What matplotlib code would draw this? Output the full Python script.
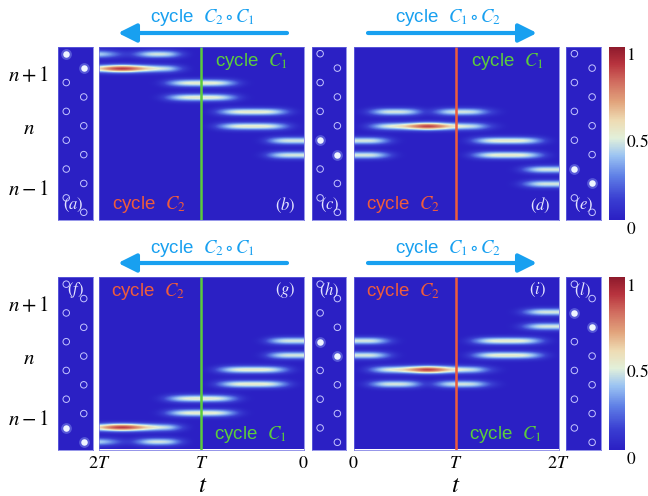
import numpy as np
import matplotlib
matplotlib.use("Agg")
import matplotlib.pyplot as plt
from matplotlib.colors import LinearSegmentedColormap, Normalize
from matplotlib.patches import FancyArrowPatch
from matplotlib.cm import ScalarMappable

plt.rcParams['mathtext.fontset'] = 'stix'

# ---------------- data ----------------
N_SITES = 12
N_T = 21            # time samples 0, 0.1T, ..., 2T

# site densities: {site row: values at t = 0, 0.1T, ..., 2T}
panel_b = {
    0: [0, 0, 0, 0, 0, 0, 0, 0, 0, 0, 0, 0, 0.15, 0.45, 0.5, 0.5, 0.3, 0.08, 0.15, 0.35, 0.45],
    1: [0, 0, 0, 0, 0, 0, 0, 0, 0, 0, 0, 0, 0.15, 0.45, 0.5, 0.6, 0.75, 0.95, 1.0, 0.85, 0.6],
    2: [0, 0, 0, 0, 0, 0, 0.05, 0.3, 0.5, 0.55, 0.55, 0.55, 0.5, 0.3, 0.05, 0, 0, 0, 0, 0, 0],
    3: [0, 0, 0, 0, 0, 0, 0.05, 0.3, 0.5, 0.55, 0.55, 0.55, 0.5, 0.3, 0.05, 0, 0, 0, 0, 0, 0],
    4: [0, 0.05, 0.3, 0.5, 0.55, 0.55, 0.55, 0.5, 0.3, 0.05, 0, 0, 0, 0, 0, 0, 0, 0, 0, 0, 0],
    5: [0, 0.05, 0.3, 0.5, 0.55, 0.55, 0.55, 0.5, 0.3, 0.05, 0, 0, 0, 0, 0, 0, 0, 0, 0, 0, 0],
    6: [0.5, 0.5, 0.5, 0.35, 0.05, 0, 0, 0, 0, 0, 0, 0, 0, 0, 0, 0, 0, 0, 0, 0, 0],
    7: [0.5, 0.5, 0.5, 0.35, 0.05, 0, 0, 0, 0, 0, 0, 0, 0, 0, 0, 0, 0, 0, 0, 0, 0],
}
panel_d = {
    4: [0, 0.05, 0.3, 0.5, 0.5, 0.5, 0.35, 0.05, 0.2, 0.45, 0.5, 0.5, 0.45, 0.2, 0.05, 0, 0, 0, 0, 0, 0],
    5: [0, 0.05, 0.3, 0.5, 0.55, 0.65, 0.82, 1.0, 0.92, 0.7, 0.55, 0.5, 0.45, 0.2, 0.05, 0, 0, 0, 0, 0, 0],
    6: [0.5, 0.5, 0.5, 0.3, 0.05, 0, 0, 0, 0, 0, 0, 0.05, 0.3, 0.5, 0.55, 0.55, 0.55, 0.5, 0.3, 0.05, 0],
    7: [0.5, 0.5, 0.5, 0.3, 0.05, 0, 0, 0, 0, 0, 0, 0.05, 0.3, 0.5, 0.55, 0.55, 0.55, 0.5, 0.3, 0.05, 0],
    8: [0, 0, 0, 0, 0, 0, 0, 0, 0, 0, 0, 0, 0, 0, 0, 0, 0.05, 0.3, 0.5, 0.5, 0.5],
    9: [0, 0, 0, 0, 0, 0, 0, 0, 0, 0, 0, 0, 0, 0, 0, 0, 0.05, 0.3, 0.5, 0.5, 0.5],
}
panel_g = {
    11: [0, 0, 0, 0, 0, 0, 0, 0, 0, 0, 0, 0, 0.15, 0.45, 0.5, 0.5, 0.3, 0.08, 0.15, 0.35, 0.45],
    10: [0, 0, 0, 0, 0, 0, 0, 0, 0, 0, 0, 0, 0.15, 0.45, 0.5, 0.6, 0.75, 0.95, 1.0, 0.85, 0.6],
    9: [0, 0, 0, 0, 0, 0, 0.05, 0.3, 0.5, 0.55, 0.55, 0.55, 0.5, 0.3, 0.05, 0, 0, 0, 0, 0, 0],
    8: [0, 0, 0, 0, 0, 0, 0.05, 0.3, 0.5, 0.55, 0.55, 0.55, 0.5, 0.3, 0.05, 0, 0, 0, 0, 0, 0],
    7: [0, 0.05, 0.3, 0.5, 0.55, 0.55, 0.55, 0.5, 0.3, 0.05, 0, 0, 0, 0, 0, 0, 0, 0, 0, 0, 0],
    6: [0, 0.05, 0.3, 0.5, 0.55, 0.55, 0.55, 0.5, 0.3, 0.05, 0, 0, 0, 0, 0, 0, 0, 0, 0, 0, 0],
    5: [0.5, 0.5, 0.5, 0.35, 0.05, 0, 0, 0, 0, 0, 0, 0, 0, 0, 0, 0, 0, 0, 0, 0, 0],
    4: [0.5, 0.5, 0.5, 0.35, 0.05, 0, 0, 0, 0, 0, 0, 0, 0, 0, 0, 0, 0, 0, 0, 0, 0],
}
panel_i = {
    7: [0, 0.05, 0.3, 0.5, 0.5, 0.5, 0.35, 0.05, 0.2, 0.45, 0.5, 0.5, 0.45, 0.2, 0.05, 0, 0, 0, 0, 0, 0],
    6: [0, 0.05, 0.3, 0.5, 0.55, 0.65, 0.82, 1.0, 0.92, 0.7, 0.55, 0.5, 0.45, 0.2, 0.05, 0, 0, 0, 0, 0, 0],
    5: [0.5, 0.5, 0.5, 0.3, 0.05, 0, 0, 0, 0, 0, 0, 0.05, 0.3, 0.5, 0.55, 0.55, 0.55, 0.5, 0.3, 0.05, 0],
    4: [0.5, 0.5, 0.5, 0.3, 0.05, 0, 0, 0, 0, 0, 0, 0.05, 0.3, 0.5, 0.55, 0.55, 0.55, 0.5, 0.3, 0.05, 0],
    3: [0, 0, 0, 0, 0, 0, 0, 0, 0, 0, 0, 0, 0, 0, 0, 0, 0.05, 0.3, 0.5, 0.5, 0.5],
    2: [0, 0, 0, 0, 0, 0, 0, 0, 0, 0, 0, 0, 0, 0, 0, 0, 0.05, 0.3, 0.5, 0.5, 0.5],
}

# occupied lattice sites in the side panels
occ_a = [0, 1]
occ_c = [6, 7]
occ_e = [8, 9]
occ_f = [10, 11]
occ_h = [4, 5]
occ_l = [2, 3]

t_ticks = [0, 1, 2]
t_ticklabels = ['$0$', '$T$', '$2T$']
cbar_ticks = [0, 0.5, 1]
cbar_ticklabels = ['$0$', '$0.5$', '$1$']
cell_labels = ['$n+1$', '$n$', '$n-1$']

# ---------------- style ----------------
BG = '#2b20c4'
BLUE = '#18a0f0'
GREEN = '#5ccc3c'
RED = '#ee5c3c'
LBL = '#e4e4ff'
SANS = 'Liberation Sans'

cmap = LinearSegmentedColormap.from_list('temp', [
    (0.00, '#2b20c4'), (0.12, '#3a3fd2'), (0.25, '#5f7fe6'), (0.37, '#9cc4f2'),
    (0.47, '#e2f0da'), (0.57, '#eedcb4'), (0.68, '#e2a47c'), (0.80, '#d06a5e'),
    (0.90, '#b8343e'), (1.00, '#8e1a2c')])

W, H = 648, 496
fig = plt.figure(figsize=(W / 100, H / 100), dpi=100)


def rect(x0, y0, x1, y1):
    return [x0 / W, 1 - y1 / H, (x1 - x0) / W, (y1 - y0) / H]


def fx(x):
    return x / W


def fy(y):
    return 1 - y / H


K = 7
prof = np.exp(-((np.arange(K) - (K - 1) / 2) / K) ** 2 / (2 * 0.17 ** 2))


def heat(box, rows, reverse, line_color, bottom):
    ax = fig.add_axes(rect(*box))
    M = np.zeros((N_SITES, N_T))
    for r, v in rows.items():
        M[r] = v
    img = (M[:, None, :] * prof[None, :, None]).reshape(N_SITES * K, N_T)
    ax.imshow(img, cmap=cmap, vmin=0, vmax=1, aspect='auto',
              extent=(-0.05, 2.05, N_SITES - 0.5, -0.5),
              interpolation='bicubic', interpolation_stage='data')
    ax.set_ylim(N_SITES - 0.5, -0.5)
    ax.set_xlim((2, 0) if reverse else (0, 2))
    ax.axvline(1, color=line_color, lw=1.8)
    ax.set_yticks([])
    if bottom:
        ax.set_xticks(t_ticks)
        ax.set_xticklabels(t_ticklabels, fontsize=13)
        ax.tick_params(axis='x', length=0, pad=3)
    else:
        ax.set_xticks([])
    for s in ax.spines.values():
        s.set_color('#6a6ae0')
        s.set_linewidth(0.5)
    return ax


def lattice(box, occ):
    ax = fig.add_axes(rect(*box))
    ax.set_facecolor(BG)
    ax.set_xlim(0, 1)
    ax.set_ylim(N_SITES - 0.5, -0.5)
    ax.set_xticks([])
    ax.set_yticks([])
    ys = np.arange(N_SITES)
    xs = np.where(ys % 2 == 0, 0.25, 0.75)
    empty = [i for i in ys if i not in occ]
    ax.scatter(xs[empty], ys[empty], s=22, facecolors='none',
               edgecolors='#c4c4ff', linewidths=0.7, zorder=2)
    ax.scatter(xs[occ], ys[occ], s=60, color='#a8c0ff', alpha=0.35,
               linewidths=0, zorder=3)
    ax.scatter(xs[occ], ys[occ], s=22, color='#eef4ff', linewidths=0, zorder=4)
    for s in ax.spines.values():
        s.set_color('#6a6ae0')
        s.set_linewidth(0.5)
    return ax


TOP = (46.5, 219.5)
BOT = (277.0, 449.5)

for (y0, y1), top in [(TOP, True), (BOT, False)]:
    if top:
        lattice((57.5, y0, 92.5, y1), occ_a)
        heat((99, y0, 303.5, y1), panel_b, True, GREEN, False)
        lattice((311.5, y0, 346, y1), occ_c)
        heat((353.5, y0, 558.5, y1), panel_d, False, RED, False)
        lattice((565.5, y0, 601, y1), occ_e)
    else:
        lattice((57.5, y0, 92.5, y1), occ_f)
        heat((99, y0, 303.5, y1), panel_g, True, GREEN, True)
        lattice((311.5, y0, 346, y1), occ_h)
        heat((353.5, y0, 558.5, y1), panel_i, False, RED, True)
        lattice((565.5, y0, 601, y1), occ_l)
    cax = fig.add_axes(rect(609, y0, 625, y1))
    cb = fig.colorbar(ScalarMappable(norm=Normalize(0, 1), cmap=cmap), cax=cax,
                      ticks=cbar_ticks)
    cb.outline.set_visible(False)
    cax.set_yticklabels(cbar_ticklabels, fontsize=12.5)
    cax.tick_params(length=0, pad=0.5)
    for lab in cax.get_yticklabels():
        lab.set_va('top')

# row labels
for dy in (0, 230.5):
    for lab, y in zip(cell_labels, [75, 128, 188.7]):
        fig.text(fx(28.5), fy(y + dy), lab, fontsize=15, ha='center', va='center')

# panel letters
letters = [('a', 73, 204.5), ('b', 285, 205.5), ('c', 330, 205), ('d', 540, 205.5),
           ('e', 584, 205), ('f', 75, 290), ('g', 285, 290), ('h', 329, 290),
           ('i', 537, 290), ('l', 582, 290)]
for L, x, y in letters:
    fig.text(fx(x), fy(y), '$(' + L + ')$', fontsize=12, color=LBL,
             ha='center', va='center')

# cycle labels inside heatmaps
c1 = 'cycle  $C_1$'
c2 = 'cycle  $C_2$'
for txt, col, x, y in [(c1, GREEN, 251.5, 61.5), (c2, RED, 148.5, 204.5),
                       (c1, GREEN, 507.5, 61.5), (c2, RED, 402.5, 204.5),
                       (c2, RED, 147.5, 291.5), (c1, GREEN, 250.5, 434.5),
                       (c2, RED, 402.5, 291.5), (c1, GREEN, 505.5, 434.5)]:
    fig.text(fx(x), fy(y), txt, fontsize=13.5, color=col, family=SANS,
             ha='center', va='center')

# arrows with composite cycle labels
for ty, ay in [(17.5, 33), (248.5, 263)]:
    fig.text(fx(202), fy(ty), r'cycle  $C_2\circ C_1$', fontsize=13.5, color=BLUE,
             family=SANS, ha='center', va='center')
    fig.text(fx(448), fy(ty), r'cycle  $C_1\circ C_2$', fontsize=13.5, color=BLUE,
             family=SANS, ha='center', va='center')
    for xa, xb in [(287, 118), (368, 537)]:
        fig.add_artist(FancyArrowPatch((fx(xa), fy(ay)), (fx(xb), fy(ay)),
                                       transform=fig.transFigure,
                                       arrowstyle='-|>,head_length=11,head_width=5.5',
                                       mutation_scale=1, lw=3, color=BLUE,
                                       shrinkA=0, shrinkB=0))

# time axis labels
fig.text(fx(203), fy(485), '$t$', fontsize=18, ha='center', va='center')
fig.text(fx(456), fy(485), '$t$', fontsize=18, ha='center', va='center')

fig.savefig('out.png', dpi=100)
